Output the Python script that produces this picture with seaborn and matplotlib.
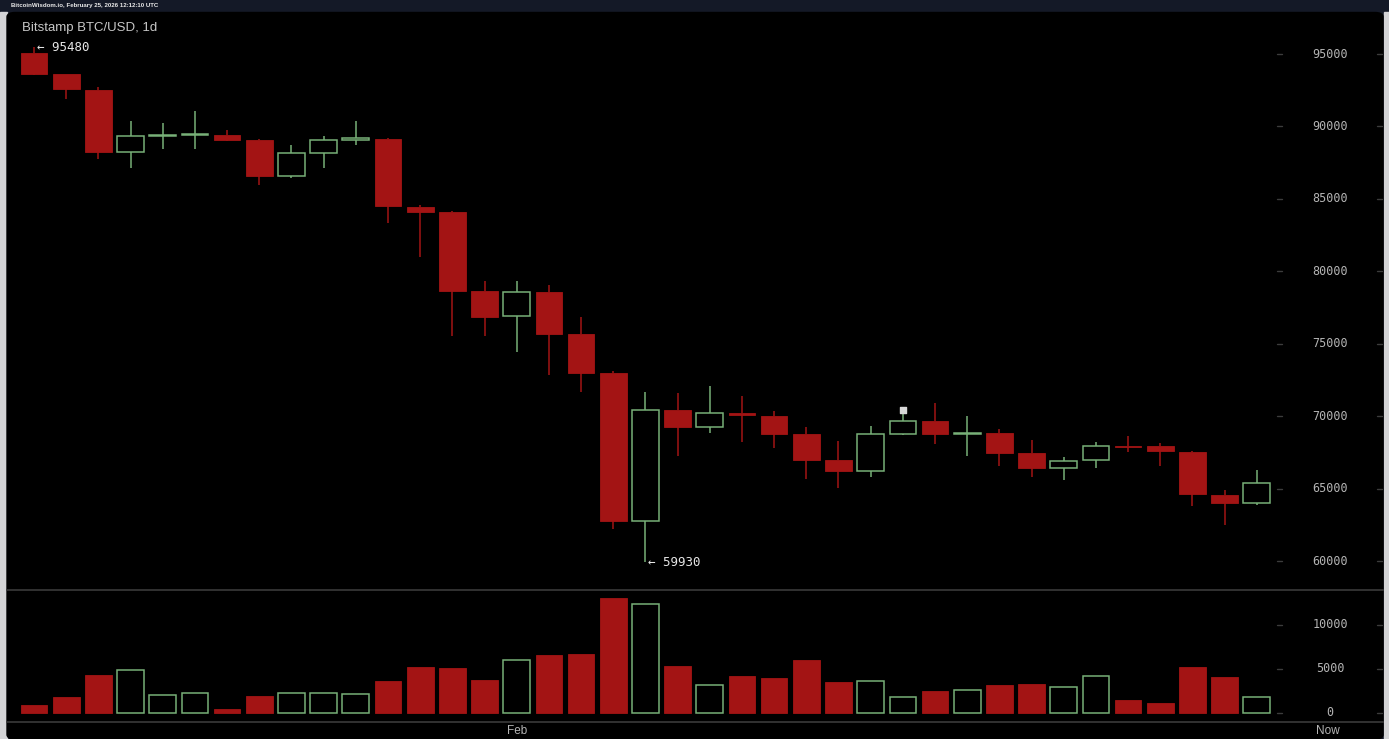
import numpy as np
import seaborn as sns
import matplotlib.pyplot as plt
from matplotlib.patches import FancyBboxPatch, Rectangle
from matplotlib.transforms import blended_transform_factory

sns.set_theme(style='dark')
plt.rcParams['font.family'] = ['Liberation Sans', 'DejaVu Sans']

# daily OHLC, Bitstamp BTC/USD (Jan 17 .. Feb 24)
open_ = [95050, 93600, 92520, 88260, 89340, 89420, 89430, 89070, 86560, 88170,
         89070, 89135, 84460, 84100, 78650, 76880, 78600, 75660, 72970, 62780,
         70440, 69220, 70250, 70020, 68780, 66990, 66230, 68780, 69700, 68800,
         68830, 67450, 66410, 66940, 67950, 67950, 67560, 64570, 64040]
high = [95480, 93650, 92750, 90400, 90260, 91070, 89760, 89130, 88700, 89360,
        90400, 89200, 84580, 84150, 79300, 79300, 79060, 76830, 73130, 71660,
        71590, 72110, 71360, 70390, 69220, 68300, 69350, 70250, 70900, 70020,
        69100, 68370, 67210, 68250, 68600, 68180, 67600, 64920, 66250]
low = [93550, 91875, 87750, 87150, 88420, 88420, 89000, 85960, 86420, 87150,
       88700, 83350, 80970, 75550, 75560, 74460, 72850, 71680, 62200, 59930,
       67280, 68870, 68250, 67800, 65650, 65030, 65830, 68710, 68090, 67260,
       66570, 65790, 65610, 66410, 67510, 66530, 63810, 62500, 63880]
close = [93600, 92565, 88260, 89340, 89420, 89450, 89070, 86560, 88150, 89070,
         89180, 84510, 84100, 78650, 76850, 78600, 75660, 72990, 62780, 70440,
         69220, 70250, 70100, 68780, 66990, 66180, 68760, 69700, 68800, 68850,
         67490, 66410, 66920, 67950, 67880, 67610, 64640, 64040, 65420]
volume = [940, 1820, 4350, 4840, 2040, 2270, 490, 1930, 2270, 2270,
          2160, 3640, 5230, 5110, 3750, 5980, 6550, 6700, 13020, 12420,
          5340, 3140, 4240, 4010, 6060, 3520, 3640, 1780, 2530, 2570,
          3140, 3300, 2910, 4240, 1480, 1170, 5230, 4130, 1780]

price_ticks = [95000, 90000, 85000, 80000, 75000, 70000, 65000, 60000]
volume_ticks = [0, 5000, 10000]
date_labels = ['Feb', 'Now']
date_pos = [15, 40.2]
marker_idx, marker_price = 27, 70440

RED = '#a31414'
GREEN = '#78b078'
W, H = 1389, 739

fig = plt.figure(figsize=(W / 100, H / 100), dpi=100, facecolor='#141927')

def box(x0, y0, x1, y1):
    return [x0 / W, 1 - y1 / H, (x1 - x0) / W, (y1 - y0) / H]

# frame: light side strips + black rounded panel
fig.patches.append(Rectangle((0, 0), 6.5 / W, 1 - 12 / H, transform=fig.transFigure,
                             color='#d4d4d6', zorder=-2))
fig.patches.append(Rectangle((1383.5 / W, 0), 6 / W, 1 - 12 / H, transform=fig.transFigure,
                             color='#d4d4d6', zorder=-2))
fig.patches.append(FancyBboxPatch((7 / W, 0), 1376 / W, 1 - 12.5 / H,
                                  boxstyle='round,pad=0,rounding_size=0.006',
                                  transform=fig.transFigure, color='black', zorder=-1))
fig.text(11 / W, 1 - 5.5 / H, 'BitcoinWisdom.io, February 25, 2026 12:12:10 UTC',
         color='#e8e8e8', fontsize=4.4, va='center', ha='left', fontweight='bold')

ax = fig.add_axes(box(7, 12, 1383, 590))
axv = fig.add_axes(box(7, 590, 1383, 722))
ax.set_zorder(2)
axv.set_zorder(2)
xlim = ((7 - 34) / 32.18, (1383 - 34) / 32.18)

idx = np.arange(len(open_))
bw = 0.83
for i in idx:
    up = close[i] >= open_[i]
    col = GREEN if up else RED
    b0, b1 = sorted((open_[i], close[i]))
    ax.vlines(i, low[i], b0, color=col, lw=1.1, zorder=2)
    ax.vlines(i, b1, high[i], color=col, lw=1.1, zorder=2)
    h = max(b1 - b0, 45)
    if up:
        ax.bar(i, h, bottom=b0, width=bw, facecolor='black', edgecolor=col, lw=1.1, zorder=3)
        axv.bar(i, volume[i], width=bw, facecolor='black', edgecolor=col, lw=1.1)
    else:
        ax.bar(i, h, bottom=b0, width=bw, color=RED, edgecolor=RED, lw=0.6, zorder=3)
        axv.bar(i, volume[i], width=bw, color=RED, edgecolor=RED, lw=0.6)

ax.scatter([marker_idx], [marker_price], marker='s', s=14, color='#d8d8d8', zorder=4)

ax.set_xlim(*xlim)
ax.set_ylim(95000 - 536 * 69.03, 95000 + 42 * 69.03)
axv.set_xlim(*xlim)
axv.set_ylim(-9 * 113.6, 123 * 113.6)

mono = dict(family='DejaVu Sans Mono', color='#b4b4b4', fontsize=8.5)
for a, ticks in ((ax, price_ticks), (axv, volume_ticks)):
    a.set_facecolor('none')
    a.set_xticks([])
    a.set_yticks([])
    a.grid(False)
    for s in ('top', 'left', 'right'):
        a.spines[s].set_visible(False)
    a.spines['bottom'].set_color('#3a3a3a')
    a.spines['bottom'].set_linewidth(1.2)
    tr = blended_transform_factory(a.transAxes, a.transData)
    for t in ticks:
        a.text((1330 - 7) / 1376, t, str(t), transform=tr, ha='center', va='center', **mono)
        for x0 in (1277, 1377):
            a.plot([(x0 - 7) / 1376, (x0 + 5 - 7) / 1376], [t, t], transform=tr,
                   color='#3c3c3c', lw=1)

ax.annotate('\u2190 95480', (0, high[0]), xytext=(2, 0), textcoords='offset points',
            ha='left', va='center', family='DejaVu Sans Mono', color='#e6e6e6', fontsize=9)
ax.annotate('\u2190 59930', (19, low[19]), xytext=(2, 0), textcoords='offset points',
            ha='left', va='center', family='DejaVu Sans Mono', color='#e6e6e6', fontsize=9)
ax.text(15 / 1376, 1 - 16.5 / 578, 'Bitstamp BTC/USD, 1d', transform=ax.transAxes,
        color='#c8c8c8', fontsize=9.5, ha='left', va='center')

for lab, pos in zip(date_labels, date_pos):
    fig.text((34 + pos * 32.18) / W, 1 - 731 / H, lab, color='#b4b4b4', fontsize=8.5,
             ha='center', va='center')

fig.savefig('out.png', dpi=100, facecolor=fig.get_facecolor())
